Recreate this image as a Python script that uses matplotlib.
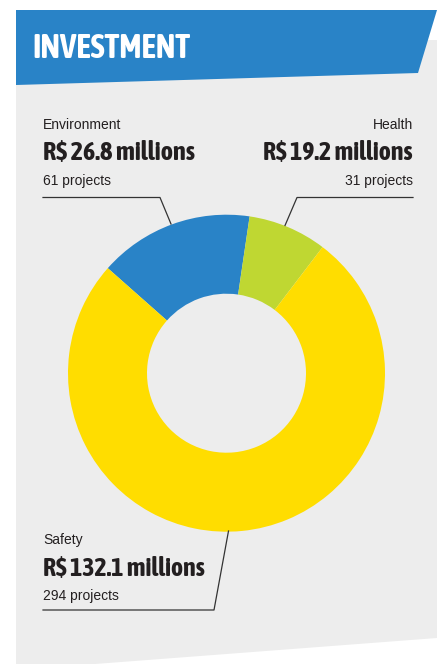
import matplotlib.pyplot as plt
from matplotlib import font_manager
from matplotlib.patches import Polygon

# data
categories = ['Environment', 'Health', 'Safety']
amounts = ['R$ 26.8 millions', 'R$ 19.2 millions', 'R$ 132.1 millions']
projects = [61, 31, 294]
colors = ['#2983C7', '#BFD732', '#FFDD00']

W, H = 445, 664
fig = plt.figure(figsize=(W / 100, H / 100), dpi=100)
ax = fig.add_axes([0, 0, 1, 1])

def y(v):
    # image rows -> axes coordinates
    return H - v

def wnum(w):
    return w if isinstance(w, int) else font_manager.weight_dict.get(w, 400)

# look for a bold condensed face, otherwise use Liberation Sans bold
cands = [f for f in font_manager.fontManager.ttflist
         if ('Condensed' in f.name or 'Narrow' in f.name or 'condensed' in str(f.stretch))
         and f.style == 'normal' and wnum(f.weight) >= 600]
cands.sort(key=lambda f: (abs(wnum(f.weight) - 700), f.name))
if cands:
    bold_narrow = font_manager.FontProperties(fname=cands[0].fname)
else:
    bold_narrow = font_manager.FontProperties(family='Liberation Sans', weight='bold')
plain = ['Liberation Sans', 'DejaVu Sans']
ink = '#231F20'

# background panel and header banner
ax.add_patch(Polygon([(16, y(40)), (437, y(40)), (437, y(638)), (16, y(670))],
                     closed=True, fc='#EDEDED', ec='none', zorder=0))
ax.add_patch(Polygon([(16, y(10)), (437, y(10)), (418, y(73)), (16, y(85))],
                     closed=True, fc='#2983C7', ec='none', zorder=1))

# donut (sized by number of projects)
ax.pie(projects, colors=colors, startangle=138.5, counterclock=False,
       center=(226.5, y(373.2)), radius=158.5, frame=True,
       wedgeprops=dict(width=79, linewidth=0))
ax.set_xlim(0, W)
ax.set_ylim(0, H)
ax.axis('off')

renderer = fig.canvas.get_renderer()

def fit(t, width, maxsize):
    # shrink font until the text is no wider than the reference
    t.set_fontsize(maxsize)
    w = t.get_window_extent(renderer).width
    if w > width:
        t.set_fontsize(maxsize * width / w)

title = ax.text(32, y(49), 'INVESTMENT', color='white', fontproperties=bold_narrow,
                va='center', ha='left', zorder=2)
fit(title, 164, 24)

# labels
label_pos = [(43, 'left', 125, 152), (413, 'right', 125, 150), (43, 'left', 540, 162)]
for (x0, ha, top, wmax), cat, amt, n in zip(label_pos, categories, amounts, projects):
    ax.text(x0, y(top), cat, fontsize=10, family=plain, color=ink, ha=ha, va='center')
    t = ax.text(x0, y(top + 28), amt, fontproperties=bold_narrow,
                color=ink, ha=ha, va='center')
    fit(t, wmax, 21)
    ax.text(x0, y(top + 56), f'{n} projects', fontsize=10, family=plain, color=ink,
            ha=ha, va='center')

# leader lines
lc = '#333333'
ax.plot([43, 160, 171], [y(197.5), y(197.5), y(224)], color=lc, lw=0.9)
ax.plot([413, 297, 285], [y(197.5), y(197.5), y(225.5)], color=lc, lw=0.9)
ax.plot([228.5, 214, 43], [y(531), y(610), y(610)], color=lc, lw=0.9)

fig.savefig('out.png', dpi=100, facecolor='white')
